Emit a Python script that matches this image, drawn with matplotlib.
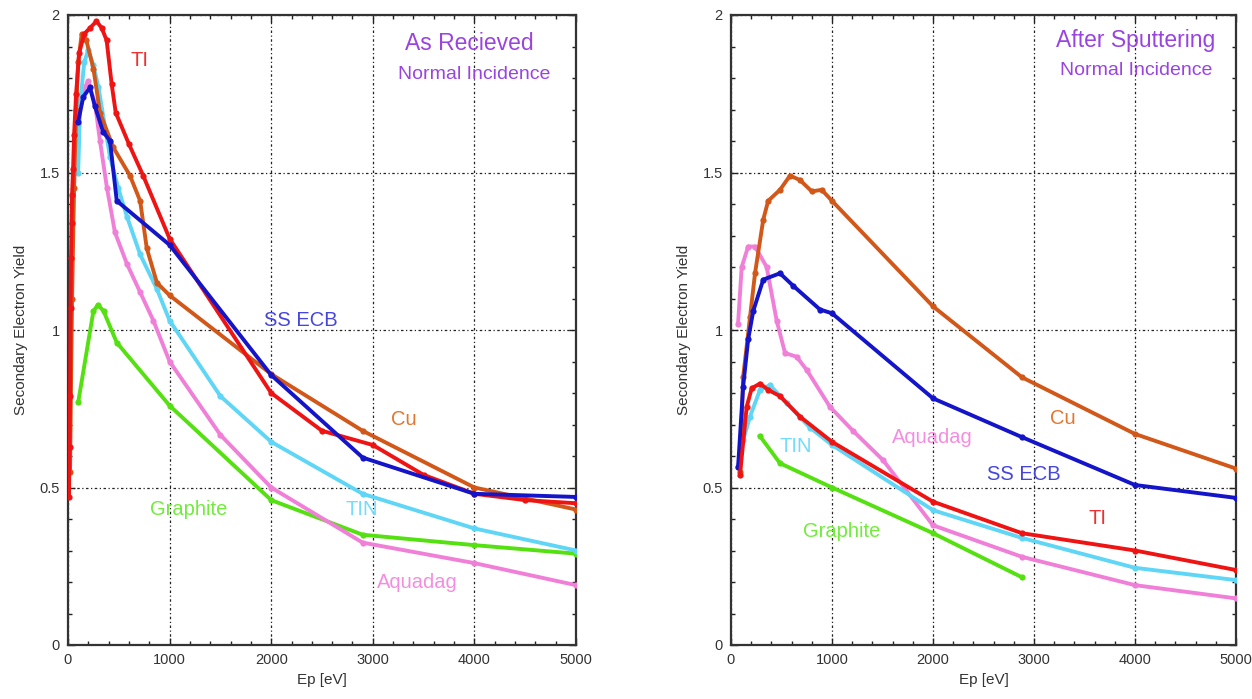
import matplotlib
matplotlib.use("Agg")
import matplotlib.pyplot as plt
from matplotlib.ticker import MultipleLocator, FuncFormatter

plt.rcParams['font.family'] = ['Liberation Sans', 'DejaVu Sans']

# ---- As received, normal incidence ----
ti_ev_a = [10, 15, 20, 25, 30, 35, 40, 50, 60, 80, 110, 160, 220, 280, 330, 380, 430, 470, 600, 740, 1000,
           2000, 2500, 3000, 3500, 4000, 4500, 5000]
ti_sey_a = [0.47, 0.63, 0.79, 1.07, 1.23, 1.34, 1.43, 1.51, 1.62, 1.75, 1.88, 1.94, 1.96, 1.98, 1.96, 1.92,
            1.78, 1.69, 1.59, 1.49, 1.29, 0.80, 0.68, 0.635, 0.54, 0.48, 0.46, 0.45]

cu_ev_a = [20, 40, 60, 80, 100, 135, 180, 250, 315, 445, 610, 710, 775, 875, 1000, 2000, 2900, 4000, 5000]
cu_sey_a = [0.55, 1.10, 1.45, 1.70, 1.85, 1.94, 1.92, 1.83, 1.69, 1.58, 1.49, 1.41, 1.26, 1.15, 1.11,
            0.86, 0.68, 0.50, 0.43]

tin_ev_a = [100, 120, 160, 200, 250, 300, 413, 495, 580, 710, 875, 1000, 1500, 2000, 2900, 4000, 5000]
tin_sey_a = [1.50, 1.72, 1.85, 1.89, 1.84, 1.77, 1.55, 1.45, 1.36, 1.24, 1.13, 1.03, 0.79, 0.645, 0.48,
             0.37, 0.30]

ss_ev_a = [100, 150, 216, 265, 345, 413, 480, 1000, 2000, 2900, 4000, 5000]
ss_sey_a = [1.66, 1.74, 1.77, 1.71, 1.63, 1.60, 1.41, 1.27, 0.857, 0.595, 0.48, 0.47]

aq_ev_a = [69, 120, 197, 265, 315, 384, 462, 580, 710, 840, 1000, 1500, 2000, 2900, 4000, 5000]
aq_sey_a = [1.60, 1.74, 1.79, 1.72, 1.60, 1.45, 1.31, 1.21, 1.12, 1.03, 0.90, 0.667, 0.50, 0.325, 0.26, 0.19]

gr_ev_a = [100, 250, 295, 350, 480, 1000, 2000, 2900, 4000, 5000]
gr_sey_a = [0.77, 1.06, 1.08, 1.06, 0.96, 0.76, 0.46, 0.35, 0.317, 0.29]

# ---- After sputtering, normal incidence ----
cu_ev_s = [90, 106, 120, 188, 238, 319, 368, 485, 584, 683, 800, 898, 1000, 2000, 2880, 4000, 5000]
cu_sey_s = [0.55, 0.71, 0.85, 1.04, 1.18, 1.35, 1.41, 1.445, 1.49, 1.476, 1.44, 1.445, 1.41, 1.075, 0.85,
            0.67, 0.56]

ss_ev_s = [70, 120, 170, 220, 319, 485, 617, 881, 1000, 2000, 2880, 4000, 5000]
ss_sey_s = [0.565, 0.82, 0.97, 1.06, 1.16, 1.18, 1.14, 1.065, 1.053, 0.783, 0.66, 0.508, 0.467]

aq_ev_s = [70, 106, 170, 238, 353, 452, 535, 650, 750, 980, 1208, 1505, 2000, 2880, 4000, 5000]
aq_sey_s = [1.02, 1.20, 1.265, 1.265, 1.20, 1.03, 0.927, 0.915, 0.873, 0.756, 0.68, 0.587, 0.38, 0.28,
            0.19, 0.148]

ti_ev_s = [89, 155, 205, 287, 368, 485, 683, 1000, 2000, 2880, 4000, 5000]
ti_sey_s = [0.54, 0.756, 0.815, 0.83, 0.81, 0.79, 0.725, 0.645, 0.455, 0.355, 0.30, 0.238]

tin_ev_s = [70, 120, 188, 287, 386, 551, 782, 1000, 2000, 2880, 4000, 5000]
tin_sey_s = [0.565, 0.65, 0.725, 0.81, 0.825, 0.768, 0.69, 0.635, 0.428, 0.34, 0.245, 0.206]

gr_ev_s = [287, 485, 1000, 2000, 2880]
gr_sey_s = [0.663, 0.577, 0.50, 0.355, 0.215]

colors = {
    'Graphite': '#55e011',
    'Aquadag': '#f07fd8',
    'TiN': '#5fd6f6',
    'Cu': '#d2581a',
    'Ti': '#ee1414',
    'SS ECB': '#1414c8',
}
label_colors = {
    'Graphite': '#72ec3c',
    'Aquadag': '#f28ee0',
    'TiN': '#72dcfa',
    'Cu': '#e2762e',
    'Ti': '#ef3030',
    'SS ECB': '#4646dc',
}
title_color = '#9a44e0'

fig = plt.figure(figsize=(12.52, 6.99), dpi=100)
ax1 = fig.add_axes([68 / 1252, 54 / 699, 508 / 1252, 630 / 699])
ax2 = fig.add_axes([731 / 1252, 54 / 699, 505 / 1252, 630 / 699])

left_series = [
    ('Graphite', gr_ev_a, gr_sey_a),
    ('Aquadag', aq_ev_a, aq_sey_a),
    ('TiN', tin_ev_a, tin_sey_a),
    ('Cu', cu_ev_a, cu_sey_a),
    ('Ti', ti_ev_a, ti_sey_a),
    ('SS ECB', ss_ev_a, ss_sey_a),
]
right_series = [
    ('Graphite', gr_ev_s, gr_sey_s),
    ('Aquadag', aq_ev_s, aq_sey_s),
    ('TiN', tin_ev_s, tin_sey_s),
    ('Cu', cu_ev_s, cu_sey_s),
    ('SS ECB', ss_ev_s, ss_sey_s),
    ('Ti', ti_ev_s, ti_sey_s),
]

# curve labels: (text, key, x, y)
left_labels = [
    ('TI', 'Ti', 708, 1.857),
    ('SS ECB', 'SS ECB', 2293, 1.03),
    ('Cu', 'Cu', 3306, 0.717),
    ('Graphite', 'Graphite', 1190, 0.43),
    ('TIN', 'TiN', 2893, 0.43),
    ('Aquadag', 'Aquadag', 3434, 0.20),
]
right_labels = [
    ('Cu', 'Cu', 3287, 0.72),
    ('Aquadag', 'Aquadag', 1990, 0.66),
    ('TIN', 'TiN', 644, 0.63),
    ('SS ECB', 'SS ECB', 2900, 0.54),
    ('TI', 'Ti', 3633, 0.40),
    ('Graphite', 'Graphite', 1099, 0.36),
]


def yfmt(v, pos):
    return '%g' % v


def style_axes(ax):
    ax.set_xlim(0, 5000)
    ax.set_ylim(0, 2)
    ax.xaxis.set_major_locator(MultipleLocator(1000))
    ax.xaxis.set_minor_locator(MultipleLocator(200))
    ax.yaxis.set_major_locator(MultipleLocator(0.5))
    ax.yaxis.set_minor_locator(MultipleLocator(0.1))
    ax.yaxis.set_major_formatter(FuncFormatter(yfmt))
    ax.tick_params(which='both', direction='in', top=True, right=True, width=1.0, colors='#222222',
                   labelsize=10.5, labelcolor='#333333')
    ax.tick_params(which='major', length=5, pad=6)
    ax.tick_params(which='minor', length=3)
    ax.grid(True, which='major', color='#222222', linestyle=(0, (2, 2, 1, 2)), linewidth=0.9)
    for sp in ax.spines.values():
        sp.set_linewidth(1.6)
        sp.set_color('#333333')
    ax.set_xlabel('Ep [eV]', fontsize=11, color='#333333', labelpad=4)
    ax.set_ylabel('Secondary Electron Yield', fontsize=11, color='#333333', labelpad=8)


for ax, series, labels in [(ax1, left_series, left_labels), (ax2, right_series, right_labels)]:
    style_axes(ax)
    for name, ev, sey in series:
        ax.plot(ev, sey, '-o', color=colors[name], lw=2.8, ms=4.5, mew=0, zorder=3)
    for text, key, x, y in labels:
        ax.text(x, y, text, color=label_colors[key], fontsize=14.5, ha='center', va='center', zorder=4)

ax1.text(3946, 1.91, 'As Recieved', color=title_color, fontsize=16.5, ha='center', va='center')
ax1.text(3995, 1.81, 'Normal Incidence', color=title_color, fontsize=14, ha='center', va='center')
ax2.text(4010, 1.92, 'After Sputtering', color=title_color, fontsize=16.5, ha='center', va='center')
ax2.text(4010, 1.825, 'Normal Incidence', color=title_color, fontsize=14, ha='center', va='center')

fig.savefig('out.png', dpi=100)
